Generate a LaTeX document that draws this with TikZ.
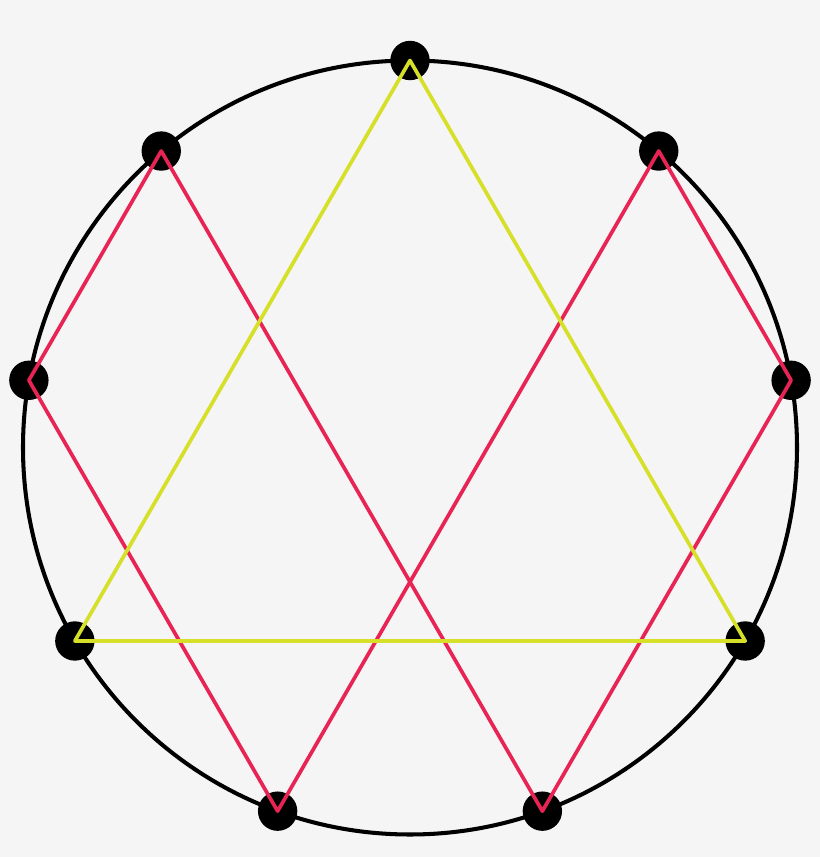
\documentclass[tikz,border=0pt]{standalone}
\usepackage{tkz-euclide}
\definecolor{bgcol}{RGB}{245,245,245}
\definecolor{rosso}{RGB}{232,36,84}
\definecolor{giallo}{RGB}{214,224,40}

\begin{document}
\begin{tikzpicture}
    \fill[bgcol] (0,0) rectangle (8.2,8.57);
    \useasboundingbox (0,0) rectangle (8.2,8.57);
    \tkzDefPoint(4.1,4.095){O}
    \tkzDefShiftPoint[O](90:3.87){A}
    \tkzDefShiftPoint[O](50:3.87){B}
    \tkzDefShiftPoint[O](10:3.87){C}
    \tkzDefShiftPoint[O](-30:3.87){D}
    \tkzDefShiftPoint[O](-70:3.87){E}
    \tkzDefShiftPoint[O](-110:3.87){F}
    \tkzDefShiftPoint[O](-150:3.87){G}
    \tkzDefShiftPoint[O](170:3.87){H}
    \tkzDefShiftPoint[O](130:3.87){I}
    \tkzDrawCircle[black, line width=1.15pt](O,A)
    \tkzDrawPoints[fill=black, size=10.8](A,B,C,D,E,F,G,H,I)
    \tkzDrawPolygon[rosso, line width=1.05pt](H,I,E,C,B,F)
    \tkzDrawPolygon[giallo, line width=1.05pt](A,D,G)
\end{tikzpicture}
\end{document}
